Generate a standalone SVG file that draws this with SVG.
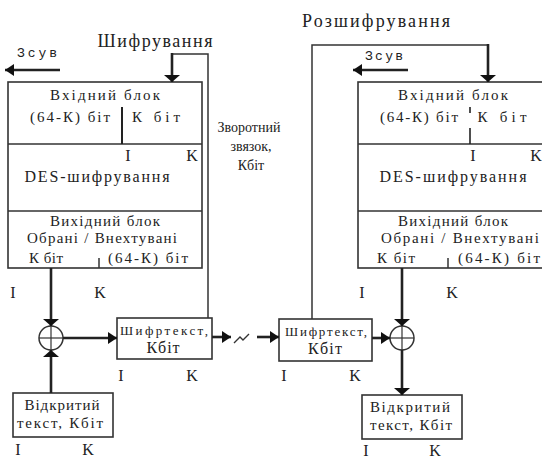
<svg xmlns="http://www.w3.org/2000/svg" width="542" height="458" viewBox="0 0 542 458" font-family="Liberation Serif, DejaVu Serif, serif">
<style>
text{fill:#222;}
.t{font-size:15px;}
.f{font-size:14px;}
.l{font-size:16px;}
.h{font-size:18px;}
.c{font-size:13px;}
.m{font-family:"Liberation Mono","DejaVu Sans Mono",monospace;font-size:13px;}
.box{fill:#fff;stroke:#333;stroke-width:1.6;}
.thin{fill:none;stroke:#333;stroke-width:1.5;}
.thick{fill:none;stroke:#222;stroke-width:2.6;}
</style>
<defs>
<marker id="ah" markerUnits="userSpaceOnUse" markerWidth="10" markerHeight="14" refX="9" refY="7" orient="auto">
<path d="M0,1 L9,7 L0,13 z" fill="#111"/>
</marker>
<marker id="af" markerUnits="userSpaceOnUse" markerWidth="8" markerHeight="18" refX="7" refY="9" orient="auto">
<path d="M0,1 L7,9 L0,17 z" fill="#111"/>
</marker>
</defs>

<g id="title-enc"><text class="h" x="155" y="47" text-anchor="middle" textLength="115">Шифрування</text></g>
<g id="title-dec"><text class="h" x="376" y="27" text-anchor="middle" textLength="148">Розшифрування</text></g>

<g id="shift-left">
<text class="m" x="37" y="57" text-anchor="middle" textLength="40">Зсув</text>
</g>
<g id="shift-right">
<text class="m" x="384" y="60" text-anchor="middle" textLength="38">Зсув</text>
</g>

<g id="feedback-label">
<text class="f" x="249" y="132" text-anchor="middle">Зворотний</text>
<text class="f" x="251" y="151" text-anchor="middle">звязок,</text>
<text class="f" x="251" y="170" text-anchor="middle">Кбіт</text>
</g>

<g id="left-register">
<rect class="box" x="8" y="82" width="194" height="186"/>
<line class="thin" x1="8" y1="144" x2="202" y2="144"/>
<line class="thin" x1="8" y1="211" x2="202" y2="211"/>
<line x1="122" y1="107" x2="122" y2="144" stroke="#222" stroke-width="2"/>
<text class="t" x="105" y="100" text-anchor="middle" textLength="110">Вхідний блок</text>
<text class="t" x="70" y="122" text-anchor="middle" textLength="80">(64-К) біт</text>
<text class="t" x="156" y="122" text-anchor="middle" textLength="48">К біт</text>
<text class="l" x="128" y="161" text-anchor="middle">I</text>
<text class="l" x="192" y="161" text-anchor="middle">K</text>
<text class="l" x="97" y="182" text-anchor="middle" textLength="145">DES-шифрування</text>
<text class="t" x="105" y="226" text-anchor="middle" textLength="110">Вихідний блок</text>
<text class="t" x="102" y="243" text-anchor="middle" textLength="150">Обрані / Внехтувані</text>
<text class="t" x="46" y="263" text-anchor="middle" textLength="34">К біт</text>
<text class="t" x="148" y="263" text-anchor="middle" textLength="80">(64-К) біт</text>
<line class="thin" x1="99" y1="258" x2="99" y2="268"/>
</g>

<g id="right-register">
<rect class="box" x="358" y="82" width="200" height="186"/>
<line class="thin" x1="358" y1="144" x2="542" y2="144"/>
<line class="thin" x1="358" y1="211" x2="542" y2="211"/>
<line x1="470" y1="107" x2="470" y2="113" stroke="#222" stroke-width="1.6"/>
<line x1="470" y1="128" x2="470" y2="144" stroke="#222" stroke-width="1.6"/>
<text class="t" x="453" y="100" text-anchor="middle" textLength="110">Вхідний блок</text>
<text class="t" x="419" y="122" text-anchor="middle" textLength="78">(64-К) біт</text>
<text class="t" x="502" y="122" text-anchor="middle" textLength="49">К біт</text>
<text class="l" x="473" y="161" text-anchor="middle">I</text>
<text class="l" x="536" y="161" text-anchor="middle">K</text>
<text class="l" x="453" y="182" text-anchor="middle" textLength="147">DES-шифрування</text>
<text class="t" x="453" y="226" text-anchor="middle" textLength="110">Вихідний блок</text>
<text class="t" x="460" y="243" text-anchor="middle" textLength="158">Обрані / Внехтувані</text>
<text class="t" x="396" y="263" text-anchor="middle" textLength="38">К біт</text>
<text class="t" x="499" y="263" text-anchor="middle" textLength="82">(64-К) біт</text>
<line class="thin" x1="448" y1="258" x2="448" y2="268"/>
</g>

<g id="left-cipher">
<rect class="box" x="117" y="318" width="95" height="41"/>
<text class="c" x="164" y="335" text-anchor="middle" textLength="88">Шифртекст,</text>
<text class="l" x="163" y="353" text-anchor="middle" textLength="33">Кбіт</text>
<text class="l" x="121" y="381" text-anchor="middle">I</text>
<text class="l" x="192" y="381" text-anchor="middle">K</text>
</g>

<g id="right-cipher">
<rect class="box" x="279" y="319" width="93" height="42"/>
<text class="c" x="326" y="336" text-anchor="middle" textLength="82">Шифртекст,</text>
<text class="l" x="325" y="354" text-anchor="middle" textLength="34">Кбіт</text>
<text class="l" x="284" y="381" text-anchor="middle">I</text>
<text class="l" x="355" y="381" text-anchor="middle">K</text>
</g>

<g id="left-plain">
<rect class="box" x="13" y="393" width="100" height="44"/>
<text class="t" x="62" y="410" text-anchor="middle" textLength="75">Відкритий</text>
<text class="t" x="60" y="428" text-anchor="middle" textLength="86">текст, Кбіт</text>
<text class="l" x="18" y="455" text-anchor="middle">I</text>
<text class="l" x="88" y="455" text-anchor="middle">K</text>
</g>

<g id="right-plain">
<rect class="box" x="362" y="395" width="100" height="44"/>
<text class="t" x="410" y="412" text-anchor="middle" textLength="80">Відкритий</text>
<text class="t" x="411" y="430" text-anchor="middle" textLength="82">текст, Кбіт</text>
<text class="l" x="366" y="456" text-anchor="middle">I</text>
<text class="l" x="435" y="456" text-anchor="middle">K</text>
</g>

<g id="left-xor">
<circle cx="51" cy="338" r="12" fill="#fff" stroke="#333" stroke-width="1.5"/>
<line x1="39" y1="338" x2="63" y2="338" stroke="#333" stroke-width="1.2"/>
<line x1="51" y1="326" x2="51" y2="350" stroke="#333" stroke-width="1.2"/>
</g>
<g id="right-xor">
<circle cx="402" cy="338" r="12" fill="#fff" stroke="#333" stroke-width="1.5"/>
<line x1="390" y1="338" x2="414" y2="338" stroke="#333" stroke-width="1.2"/>
<line x1="402" y1="326" x2="402" y2="350" stroke="#333" stroke-width="1.2"/>
</g>

<g id="io-labels">
<text class="l" x="13" y="298" text-anchor="middle">I</text>
<text class="l" x="100" y="298" text-anchor="middle">K</text>
<text class="l" x="362" y="298" text-anchor="middle">I</text>
<text class="l" x="452" y="298" text-anchor="middle">K</text>
</g>

<g id="connectors">
<line class="thick" x1="60" y1="70" x2="5" y2="70" marker-end="url(#ah)"/>
<line class="thick" x1="408" y1="70" x2="353" y2="70" marker-end="url(#ah)"/>
<polyline class="thin" points="208,318 208,54 172,54"/>
<line class="thick" x1="172" y1="53" x2="172" y2="82" marker-end="url(#af)"/>
<polyline class="thin" points="312,319 312,45 488,45"/>
<line class="thick" x1="488" y1="44" x2="488" y2="82" marker-end="url(#af)"/>
<line class="thick" x1="51" y1="268" x2="51" y2="326" marker-end="url(#af)"/>
<line class="thick" x1="51" y1="393" x2="51" y2="350" marker-end="url(#af)"/>
<line class="thick" x1="63" y1="338" x2="117" y2="338" marker-end="url(#ah)"/>
<line class="thick" x1="212" y1="337" x2="231" y2="337" marker-end="url(#ah)"/>
<polyline fill="none" stroke="#333" stroke-width="1.4" points="234,343 240,337 243,340 249,334"/>
<line class="thick" x1="257" y1="337" x2="279" y2="337" marker-end="url(#ah)"/>
<line class="thick" x1="372" y1="338" x2="390" y2="338" marker-end="url(#ah)"/>
<line class="thick" x1="402" y1="268" x2="402" y2="326" marker-end="url(#af)"/>
<line class="thick" x1="402" y1="350" x2="402" y2="395" marker-end="url(#af)"/>
</g>
</svg>
